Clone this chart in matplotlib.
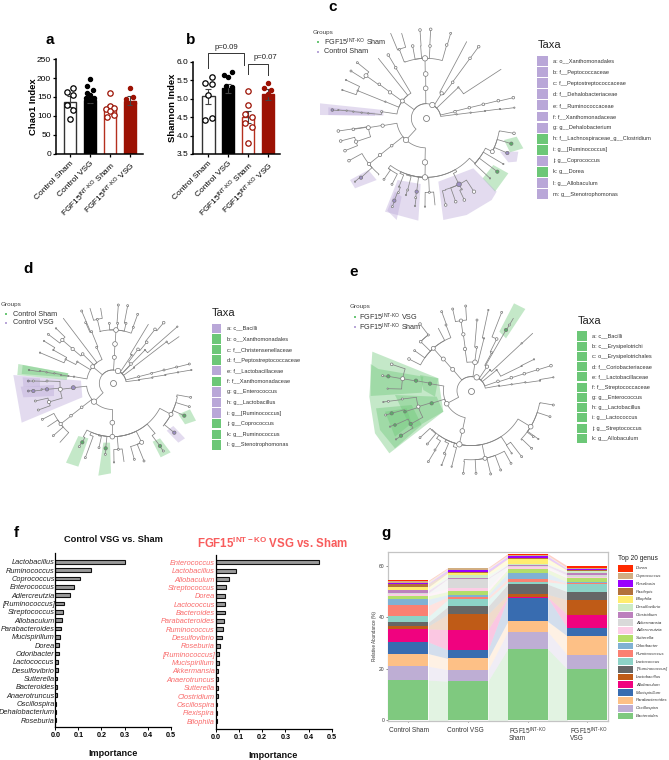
import numpy as np
import matplotlib
matplotlib.use('Agg')
import matplotlib.pyplot as plt
from matplotlib.patches import Polygon

plt.rcParams['font.family'] = ['Liberation Sans', 'DejaVu Sans']
plt.rcParams['mathtext.fontset'] = 'custom'
plt.rcParams['mathtext.rm'] = 'Liberation Sans'
plt.rcParams['mathtext.bf'] = 'Liberation Sans:bold'
plt.rcParams['mathtext.it'] = 'Liberation Sans:italic'
plt.rcParams['mathtext.default'] = 'regular'

W, H = 669, 760
KO = r'FGF15$^{\text{INT-KO}}$'

# a / b
groups = ['Control Sham', 'Control VSG', KO + ' Sham', KO + ' VSG']
chao_mean = [138, 143, 120, 140]
chao_err = [15, 8, 8, 12]
chao_pts = [[164, 173, 155, 130, 115, 91],
            [197, 179, 168, 161, 155, 148, 148, 143],
            [160, 127, 117, 120, 113, 102, 97],
            [175, 150, 145, 133, 111]]
chao_off = [[-.5, .5, .5, -.5, .5, 0],
            [0, -.5, .5, -.4, 0, -.6, .6, 0],
            [0, 0, -.6, .6, 0, .6, -.5],
            [0, .5, -.6, .6, 0]]
shan_mean = [5.07, 5.28, 4.5, 5.12]
shan_err = [0.2, 0.13, 0.17, 0.14]
shan_pts = [[5.58, 5.44, 5.4, 5.1, 4.48, 4.42],
            [5.73, 5.64, 5.6, 5.35, 5.33, 4.77],
            [5.2, 4.84, 4.59, 4.5, 4.33, 4.24, 3.81],
            [5.42, 5.28, 5.24, 5.12, 4.57]]
shan_off = [[.5, -.5, .6, 0, .5, -.5],
            [.5, -.6, 0, -.4, .5, 0],
            [0, 0, -.5, .6, -.5, .6, 0],
            [0, -.6, .5, 0, 0]]

# f
ctrl_genus = ['Lactobacillus', 'Ruminococcus', 'Coprococcus', 'Enterococcus', 'Adlercreutzia',
              '[Ruminococcus]', 'Streptococcus', 'Allobaculum', 'Parabacteroides', 'Mucispirillum',
              'Dorea', 'Odoribacter', 'Lactococcus', 'Desulfovibrio', 'Sutterella', 'Bacteroides',
              'Anaerotruncus', 'Oscillospira', 'Dehalobacterium', 'Roseburia']
ctrl_imp = [.30, .153, .108, .08, .063, .037, .035, .031, .023, .021,
            .018, .014, .013, .012, .009, .008, .006, .005, .004, .003]
ko_genus = ['Enterococcus', 'Lactobacillus', 'Allobaculum', 'Streptococcus', 'Dorea', 'Lactococcus',
            'Bacteroides', 'Parabacteroides', 'Ruminococcus', 'Desulfovibrio', 'Roseburia',
            '[Ruminococcus]', 'Mucispirillum', 'Akkermansia', 'Anaerotruncus', 'Sutterella',
            'Clostridium', 'Oscillospira', 'Flexispira', 'Bilophila']
ko_imp = [.447, .087, .058, .043, .04, .04, .038, .036, .03, .025,
          .017, .016, .013, .011, .010, .009, .008, .007, .006, .005]

# g, cumulative tops, bottom genus first
genus = ['Bacteroides', 'Oscillospira', 'Parabacteroides', 'Mucispirillum', 'Allobaculum',
         'Lactobacillus', '[Ruminococcus]', 'Lactococcus', 'Ruminococcus', 'Odoribacter',
         'Sutterella', 'Adlercreutzia', 'Akkermansia', 'Clostridium', 'Desulfovibrio',
         'Bilophila', 'Paxilepis', 'Roseburia', 'Coprococcus', 'Dorea']
genus_col = ['#7fc97f', '#beaed4', '#fdc086', '#386cb0', '#f0027f', '#bf5b17', '#666666', '#8dd3c7',
             '#fb8072', '#80b1d3', '#b3de69', '#fccde5', '#d9d9d9', '#bc80bd', '#ccebc5', '#ffed6f',
             '#b3713a', '#9900ff', '#d2ae82', '#ff2a00']
tops_ctrl_sham = [15.6, 21, 25.9, 30.4, 35.5, 36.6, 38, 40.3, 44.6, 47, 48.3, 49.2, 49.4, 50.4, 50.7,
                  51.7, 53, 53.2, 53.9, 54.3]
tops_ctrl_vsg = [15.2, 19.6, 24, 27.3, 35.2, 41.2, 44.2, 46.9, 47.9, 48.8, 50, 51.3, 55, 55.3, 56.5,
                 57.2, 57.6, 58.4, 59, 59.3]
tops_ko_sham = [27.7, 34.4, 38.4, 47.6, 47.9, 48.9, 52.8, 53.7, 54.9, 57.1, 58.6, 59.4, 59.8, 60.4,
                60.8, 62.7, 62.9, 63.7, 64.1, 64.7]
tops_ko_vsg = [19.8, 25.3, 32.7, 35.8, 41, 46.7, 49.9, 52.9, 53.2, 53.6, 55.2, 55.5, 56.3, 57.3, 57.9,
               58.1, 58.4, 58.7, 59.1, 59.9]
g_labels = ['Control Sham', 'Control VSG', KO, KO]
g_labels2 = ['', '', 'Sham', 'VSG']

# cladograms: (depth, x, y, node size, 0 plain / 1 purple / 2 green), parent = last row one depth up
c_center = (378, 355)
c_nodes = [
    (0, 378, 311, 0, 0),
    (1, 397, 315, 8, 0),
    (2, 425, 280, 5, 0), (3, 458, 247, 4, 0), (4, 510, 175, 4, 0), (5, 536, 140, 4, 0),
    (3, 500, 125, 0, 0),
    (2, 475, 262, 2, 0), (3, 603, 208, 0, 0),
    (2, 465, 335, 4, 0), (3, 508, 323, 4, 0), (4, 550, 313, 4, 0), (5, 595, 302, 4, 0), (6, 640, 293, 4, 0),
    (2, 470, 343, 2, 0), (3, 512, 338, 2, 0), (4, 555, 333, 2, 0), (5, 600, 327, 2, 0), (6, 643, 323, 2, 0),
    (1, 377, 265, 7, 0), (2, 377, 222, 7, 0), (3, 375, 175, 8, 0),
    (4, 315, 185, 0, 0), (5, 298, 148, 3, 0), (6, 272, 100, 0, 0), (6, 305, 100, 0, 0),
    (4, 338, 138, 4, 0), (4, 362, 138, 0, 0), (5, 360, 90, 4, 0), (4, 390, 138, 4, 0), (5, 392, 88, 4, 0),
    (4, 440, 135, 4, 0), (5, 452, 100, 3, 0),
    (1, 307, 303, 6, 0),
    (2, 270, 277, 5, 0), (3, 238, 253, 4, 0), (4, 198, 227, 6, 0), (5, 172, 188, 3, 0), (5, 153, 213, 3, 0),
    (2, 287, 203, 4, 0), (3, 265, 165, 4, 0), (2, 235, 175, 0, 0),
    (2, 256, 305, 2, 0), (3, 173, 272, 2, 0), (4, 138, 240, 2, 0), (4, 127, 270, 2, 0),
    (2, 245, 335, 3, 0), (3, 205, 340, 2, 0), (4, 185, 338, 2, 0), (5, 160, 335, 2, 0), (6, 140, 332, 2, 0),
    (7, 115, 330, 2, 0), (8, 97, 330, 4, 1),
    (1, 318, 420, 8, 0),
    (2, 248, 377, 5, 0), (3, 205, 383, 6, 0), (4, 160, 388, 4, 0), (4, 115, 393, 4, 0),
    (4, 168, 425, 5, 0), (5, 122, 423, 4, 0), (5, 135, 452, 4, 0),
    (2, 275, 437, 4, 0), (3, 240, 465, 5, 0), (4, 207, 492, 5, 0), (5, 147, 482, 4, 0),
    (5, 183, 533, 5, 1), (6, 165, 545, 2, 0), (5, 235, 525, 0, 0),
    (2, 375, 487, 8, 0), (3, 375, 532, 8, 0),
    (4, 265, 505, 0, 0), (5, 252, 538, 3, 0), (5, 276, 553, 3, 0),
    (4, 300, 520, 0, 0), (5, 297, 560, 2, 0), (6, 295, 578, 3, 0), (7, 283, 602, 5, 1), (8, 277, 620, 3, 0),
    (4, 320, 525, 0, 0), (5, 323, 570, 3, 0), (6, 318, 585, 2, 0),
    (4, 347, 530, 0, 0), (5, 350, 575, 5, 1), (6, 347, 593, 3, 0), (7, 345, 618, 2, 0),
    (4, 388, 577, 3, 0), (5, 375, 620, 2, 0), (5, 405, 615, 0, 0),
    (4, 470, 515, 0, 0), (5, 477, 553, 7, 1), (6, 437, 570, 0, 0), (7, 437, 615, 4, 0),
    (6, 467, 605, 4, 0), (6, 485, 568, 2, 0), (7, 493, 600, 4, 0), (6, 522, 575, 5, 0),
    (4, 525, 490, 0, 0), (5, 592, 515, 5, 2), (5, 570, 535, 2, 0), (5, 610, 492, 2, 0),
    (5, 577, 455, 6, 0), (6, 598, 395, 0, 0), (7, 642, 400, 4, 0),
    (6, 634, 431, 5, 2), (6, 622, 459, 5, 1),
]
c_shades = [
    (1, [(60, 310), (250, 330), (250, 347), (60, 345)]),
    (1, [(85, 322), (225, 338), (225, 347), (85, 345)]),
    (1, [(150, 540), (205, 510), (230, 540), (165, 565)]),
    (2, [(612, 420), (650, 410), (670, 445), (630, 457)]),
    (1, [(600, 455), (655, 455), (650, 485), (625, 487)]),
    (2, [(548, 535), (580, 495), (625, 520), (585, 575)]),
    (1, [(415, 545), (520, 505), (590, 575), (575, 600), (500, 645), (430, 660)]),
    (1, [(293, 540), (362, 552), (355, 662), (255, 635)]),
    (1, [(262, 632), (285, 575), (305, 590), (290, 660)]),
]

d_center = (338, 280)
d_nodes = [
    (0, 340, 240, 0, 0),
    (1, 354, 243, 8, 0),
    (2, 393, 222, 4, 0), (3, 414, 178, 4, 0), (4, 440, 157, 4, 0), (5, 465, 118, 4, 0), (6, 491, 98, 4, 0),
    (2, 395, 195, 2, 0), (3, 445, 103, 0, 0),
    (2, 435, 180, 2, 0), (3, 532, 110, 2, 0),
    (2, 402, 233, 2, 0), (3, 500, 155, 2, 0), (4, 537, 140, 0, 0),
    (2, 416, 260, 3, 0), (3, 455, 250, 3, 0), (4, 492, 240, 3, 0), (5, 530, 231, 3, 0), (6, 568, 222, 3, 0),
    (2, 417, 270, 2, 0), (3, 457, 263, 2, 0), (4, 496, 255, 2, 0), (5, 534, 247, 2, 0), (6, 574, 240, 2, 0),
    (1, 343, 202, 6, 0), (2, 345, 162, 7, 0), (3, 348, 120, 7, 0),
    (4, 300, 125, 0, 0), (5, 292, 88, 3, 0), (6, 270, 55, 0, 0), (6, 302, 55, 0, 0),
    (4, 328, 100, 3, 0), (4, 353, 100, 3, 0), (5, 355, 45, 3, 0), (4, 378, 100, 3, 0), (5, 383, 47, 3, 0),
    (4, 400, 112, 3, 0), (5, 413, 73, 3, 0),
    (1, 278, 230, 6, 0),
    (2, 248, 192, 4, 0), (3, 218, 177, 5, 0), (4, 187, 150, 5, 0), (5, 145, 133, 3, 0), (5, 168, 115, 2, 0),
    (2, 290, 172, 3, 0), (3, 275, 125, 3, 0), (4, 245, 63, 3, 0), (4, 257, 98, 3, 0),
    (2, 190, 85, 0, 0),
    (2, 232, 215, 2, 0), (3, 197, 208, 2, 0), (4, 160, 180, 2, 0), (5, 132, 153, 2, 0), (4, 120, 188, 2, 0),
    (2, 222, 260, 2, 0), (3, 205, 258, 2, 0), (4, 183, 255, 2, 0), (5, 163, 250, 2, 0), (6, 140, 247, 2, 0),
    (7, 120, 243, 2, 0), (8, 87, 240, 2, 2),
    (1, 282, 335, 8, 0),
    (2, 220, 293, 6, 1), (3, 181, 298, 6, 0),
    (4, 141, 273, 3, 0), (5, 100, 273, 3, 0), (6, 85, 273, 3, 1),
    (4, 141, 298, 5, 1), (5, 125, 298, 2, 0), (6, 100, 303, 5, 1), (7, 85, 303, 3, 1),
    (4, 147, 336, 5, 0), (5, 106, 333, 3, 0), (5, 115, 360, 3, 0),
    (2, 245, 352, 4, 0), (3, 213, 377, 4, 0), (4, 182, 402, 5, 0), (5, 127, 388, 3, 0),
    (5, 160, 437, 3, 0), (5, 180, 457, 0, 0), (5, 143, 410, 0, 0),
    (2, 337, 398, 7, 0), (3, 337, 440, 7, 0),
    (4, 250, 440, 0, 0), (5, 247, 457, 5, 2), (6, 238, 470, 3, 0),
    (4, 270, 435, 0, 0), (5, 256, 503, 3, 0), (4, 295, 437, 0, 0), (5, 297, 473, 3, 0),
    (4, 320, 440, 0, 0), (5, 317, 475, 5, 2), (6, 316, 493, 3, 0),
    (4, 355, 478, 3, 0), (5, 342, 517, 2, 0), (5, 372, 515, 0, 0),
    (4, 425, 457, 6, 0), (5, 392, 470, 0, 0), (6, 403, 508, 3, 0), (5, 432, 513, 3, 0),
    (4, 465, 430, 0, 0), (5, 480, 468, 5, 2), (6, 490, 483, 3, 0),
    (4, 513, 373, 6, 0), (5, 530, 320, 0, 0), (6, 572, 322, 3, 0), (5, 568, 350, 3, 0), (5, 553, 377, 5, 2),
    (5, 523, 428, 5, 1), (5, 490, 408, 0, 0),
]
d_shades = [
    (1, [(40, 255), (243, 272), (247, 322), (65, 398)]),
    (1, [(68, 262), (120, 265), (120, 290), (70, 290)]),
    (1, [(62, 290), (162, 285), (162, 318), (70, 322)]),
    (2, [(55, 222), (205, 250), (200, 270), (52, 255)]),
    (2, [(68, 225), (205, 250), (200, 262), (65, 252)]),
    (2, [(535, 373), (570, 358), (588, 392), (555, 403)]),
    (1, [(500, 422), (520, 408), (555, 445), (535, 458)]),
    (2, [(458, 455), (480, 445), (512, 487), (482, 502)]),
    (2, [(235, 438), (265, 445), (235, 530), (198, 518)]),
    (2, [(310, 458), (330, 458), (333, 550), (295, 557)]),
]

e_center = (393, 302)
e_nodes = [
    (0, 395, 260, 0, 0),
    (1, 410, 262, 8, 0),
    (2, 441, 230, 5, 0), (3, 455, 188, 3, 0), (4, 470, 147, 4, 0), (5, 485, 67, 3, 0),
    (3, 498, 120, 5, 2), (4, 508, 105, 3, 0), (5, 520, 85, 0, 0),
    (2, 450, 240, 2, 0), (3, 545, 160, 2, 0), (4, 578, 130, 0, 0),
    (2, 474, 274, 4, 0), (3, 514, 263, 4, 0), (4, 553, 251, 4, 0), (5, 593, 239, 4, 0), (6, 633, 227, 4, 0),
    (2, 477, 287, 2, 0), (3, 515, 283, 2, 0), (4, 556, 277, 2, 0), (5, 600, 272, 2, 0), (6, 640, 262, 2, 0),
    (2, 470, 240, 2, 0), (3, 545, 228, 2, 0), (4, 582, 208, 2, 0),
    (1, 405, 217, 7, 0),
    (2, 375, 177, 5, 0), (3, 370, 133, 5, 0), (4, 363, 92, 5, 0), (5, 338, 57, 3, 0), (5, 377, 48, 3, 0),
    (2, 410, 172, 3, 0), (3, 411, 90, 3, 0),
    (2, 432, 145, 2, 0), (3, 445, 60, 2, 0),
    (1, 338, 238, 6, 0), (2, 310, 207, 6, 0), (3, 280, 175, 6, 0),
    (4, 242, 155, 4, 0), (5, 240, 102, 4, 0), (5, 265, 135, 3, 0),
    (4, 224, 182, 3, 0), (4, 207, 207, 4, 0),
    (4, 318, 105, 3, 0), (5, 305, 65, 3, 0), (4, 295, 115, 0, 0),
    (1, 320, 341, 7, 0),
    (2, 270, 281, 5, 2), (3, 228, 272, 5, 2), (4, 188, 266, 6, 0),
    (5, 155, 223, 4, 0), (5, 145, 259, 5, 2), (6, 128, 257, 3, 0), (5, 143, 296, 2, 0),
    (2, 275, 340, 5, 2), (3, 235, 350, 5, 0),
    (4, 187, 327, 3, 0), (5, 145, 334, 3, 0), (6, 130, 336, 2, 0),
    (4, 195, 365, 4, 2), (5, 155, 370, 5, 2), (6, 137, 375, 3, 0),
    (4, 212, 402, 5, 2), (5, 165, 405, 4, 2), (6, 150, 410, 2, 0),
    (5, 183, 437, 5, 2), (6, 168, 448, 2, 0),
    (2, 367, 423, 7, 0), (3, 358, 463, 8, 0),
    (4, 275, 420, 0, 0), (5, 240, 443, 3, 0), (5, 262, 462, 3, 0),
    (4, 290, 445, 0, 0), (5, 285, 480, 3, 0), (6, 265, 515, 3, 0),
    (4, 315, 455, 0, 0), (5, 313, 490, 3, 0), (6, 305, 525, 2, 0),
    (4, 340, 470, 0, 0), (5, 335, 530, 2, 0),
    (4, 435, 505, 6, 0), (5, 372, 515, 0, 0), (6, 370, 550, 3, 0), (5, 408, 550, 3, 0),
    (5, 452, 552, 3, 0), (5, 482, 540, 3, 0), (5, 513, 520, 3, 0),
    (4, 500, 465, 0, 0), (5, 545, 500, 3, 0), (5, 515, 490, 2, 0),
    (4, 572, 410, 7, 0), (5, 600, 340, 0, 0), (6, 640, 345, 3, 0), (5, 630, 380, 3, 0),
    (5, 580, 440, 3, 0), (5, 595, 447, 2, 0), (5, 545, 450, 0, 0), (6, 575, 475, 3, 0),
]
e_shades = [
    (2, [(97, 185), (295, 265), (310, 365), (148, 490), (105, 430), (88, 320)]),
    (2, [(115, 237), (250, 260), (245, 308), (92, 318), (92, 222)]),
    (2, [(240, 255), (295, 265), (285, 320), (250, 300)]),
    (2, [(165, 315), (290, 320), (310, 365), (215, 420)]),
    (2, [(108, 355), (215, 345), (245, 405), (165, 475), (120, 420)]),
    (2, [(135, 365), (200, 355), (215, 400), (165, 440)]),
    (2, [(478, 125), (522, 40), (556, 57), (498, 145)]),
]

c_taxa = ['a: o__Xanthomonadales', 'b: f__Peptococcaceae', 'c: f__Peptostreptococcaceae',
          'd: f__Dehalobacteriaceae', 'e: f__Ruminococcaceae', 'f: f__Xanthomonadaceae',
          'g: g__Dehalobacterium', 'h: f__Lachnospiraceae_g__Clostridium', 'i: g__[Ruminococcus]',
          'j: g__Coprococcus', 'k: g__Dorea', 'l: g__Allobaculum', 'm: g__Stenotrophomonas']
c_taxa_kind = [1, 1, 1, 1, 1, 1, 1, 2, 2, 1, 2, 1, 1]
d_taxa = ['a: c__Bacilli', 'b: o__Xanthomonadales', 'c: f__Christensenellaceae',
          'd: f__Peptostreptococcaceae', 'e: f__Lactobacillaceae', 'f: f__Xanthomonadaceae',
          'g: g__Enterococcus', 'h: g__Lactobacillus', 'i: g__[Ruminococcus]', 'j: g__Coprococcus',
          'k: g__Ruminococcus', 'l: g__Stenotrophomonas']
d_taxa_kind = [1, 2, 2, 2, 1, 2, 1, 1, 1, 2, 2, 2]
e_taxa = ['a: c__Bacilli', 'b: c__Erysipelotrichi', 'c: o__Erysipelotrichales', 'd: f__Coriobacteriaceae',
          'e: f__Lactobacillaceae', 'f: f__Streptococcaceae', 'g: g__Enterococcus', 'h: g__Lactobacillus',
          'i: g__Lactococcus', 'j: g__Streptococcus', 'k: g__Allobaculum']
e_taxa_kind = [2] * 11

PURPLE = '#b9a7d8'
GREEN = '#6cc777'
INK = '#222222'
RED = '#9c1204'


def px_axes(x0, y0, x1, y1):
    return fig.add_axes([x0 / W, 1 - y1 / H, (x1 - x0) / W, (y1 - y0) / H])


def bar_panel(ax, means, errs, pts, offs, ylim, ticks, ylabel, ticklabs):
    edge = ['#333333', 'black', '#b5301f', RED]
    face = ['white', 'black', 'white', RED]
    pt_edge = ['black', 'black', RED, RED]
    pt_face = ['white', 'black', 'white', RED]
    for i in range(4):
        ax.bar(i, means[i], 0.62, color=face[i], edgecolor=edge[i], linewidth=1.0, zorder=2)
        ax.errorbar(i, means[i], yerr=errs[i], color='#444444', capsize=2.2, lw=0.8, capthick=0.8, zorder=3)
        x = [i + o * 0.33 for o in offs[i]]
        filled = pt_face[i] != 'white'
        ax.scatter(x, pts[i], s=9 if filled else 15, facecolor=pt_face[i], edgecolor=pt_edge[i],
                   linewidth=0.9, zorder=4)
    ax.set_ylim(*ylim)
    ax.set_yticks(ticks)
    ax.set_xticks(range(4))
    ax.set_xticklabels(ticklabs, rotation=45, ha='right', rotation_mode='anchor', fontsize=6)
    ax.tick_params(axis='y', labelsize=6, length=2.5, width=0.9, pad=1)
    ax.tick_params(axis='x', length=2.5, width=0.9, pad=2)
    ax.set_ylabel(ylabel, fontsize=6.8, fontweight='bold', labelpad=-0.5)
    for s in ['top', 'right']:
        ax.spines[s].set_visible(False)
    for s in ['left', 'bottom']:
        ax.spines[s].set_linewidth(1.1)


def imp_panel(ax, names, vals, ylim, col):
    ax.barh(range(len(vals)), vals, 0.45, color='#9a9a9a', edgecolor='#111111', linewidth=0.8)
    ax.set_ylim(*ylim)
    ax.set_xlim(0, 0.5)
    ax.set_yticks(range(len(vals)))
    ax.set_yticklabels(names, fontsize=5.3, style='italic', color=col)
    ax.tick_params(axis='y', length=0, pad=0.5)
    ax.set_xticks([0, .1, .2, .3, .4, .5])
    ax.set_xticklabels(['0.0', '0.1', '0.2', '0.3', '0.4', '0.5'], fontsize=5.2, fontweight='bold')
    ax.tick_params(axis='x', length=2, width=0.7, pad=1.5)
    for s in ['top', 'right']:
        ax.spines[s].set_visible(False)
    ax.spines['left'].set_linewidth(0.9)
    ax.spines['bottom'].set_linewidth(0.9)
    ax.patch.set_alpha(0)


def draw_tree(ax, center, nodes, shades):
    cx, cy = center
    kind_col = {1: PURPLE, 2: GREEN}
    for kind, poly in shades:
        ax.add_patch(Polygon(poly, closed=True, facecolor=kind_col[kind], alpha=0.4, edgecolor='none', zorder=1))
    last = {}
    xs, ys, ss, fcs = [], [], [], []
    for depth, x, y, size, kind in nodes:
        last[depth] = (x, y)
        if depth > 0:
            px, py = last[depth - 1]
            pr = np.hypot(px - cx, py - cy)
            pa = np.arctan2(py - cy, px - cx)
            a = np.arctan2(y - cy, x - cx)
            da = (a - pa + np.pi) % (2 * np.pi) - np.pi
            th = np.linspace(pa, pa + da, 24)
            lx = list(cx + pr * np.cos(th)) + [x]
            ly = list(cy + pr * np.sin(th)) + [y]
            ax.plot(lx, ly, color='#858585', lw=0.55, zorder=2, solid_capstyle='round')
        if size > 0:
            xs.append(x)
            ys.append(y)
            # node size is a radius in the 3x tree units
            ss.append((2 * size * 0.24) ** 2)
            fcs.append({0: 'white', 1: '#9d8fc4', 2: '#5aaf68'}[kind])
    ax.scatter(xs, ys, s=ss, facecolor=fcs, edgecolor='#777777', linewidth=0.5, zorder=3)
    ax.scatter([cx], [cy], s=(2 * 9 * 0.24) ** 2, facecolor='white', edgecolor='#777777', linewidth=0.55, zorder=3)


def tree_axes(x0, y0, w, h):
    ax = px_axes(x0, y0, x0 + w, y0 + h)
    ax.set_xlim(0, w * 3)
    ax.set_ylim(h * 3, 0)
    ax.axis('off')
    return ax


fig = plt.figure(figsize=(W / 100, H / 100), dpi=100)

# a
ax = px_axes(56, 59.3, 143, 153.5)
ax.set_xlim(-0.7, 3.65)
bar_panel(ax, chao_mean, chao_err, chao_pts, chao_off, (0, 250), [0, 50, 100, 150, 200, 250], 'Chao1 Index', groups)

# b
ax = px_axes(193.3, 62, 280, 154)
ax.set_xlim(-0.76, 3.6)
bar_panel(ax, shan_mean, shan_err, shan_pts, shan_off, (3.5, 6.0), [3.5, 4.0, 4.5, 5.0, 5.5, 6.0], 'Shannon Index', groups)
ax.set_yticklabels(['3.5', '4.0', '4.5', '5.0', '5.5', '6.0'])
ax.plot([0, 0, 1.8, 1.8], [5.83, 6.25, 6.25, 5.92], color='#333333', lw=0.7, clip_on=False)
ax.text(0.9, 6.4, 'p=0.09', fontsize=5.6, ha='center', va='center', color=INK)
ax.plot([1.97, 1.97, 2.98, 2.98], [5.67, 5.95, 5.95, 5.65], color='#333333', lw=0.7, clip_on=False)
ax.text(2.88, 6.11, 'p=0.07', fontsize=5.6, ha='center', va='center', color=INK)

# c d e
draw_tree(tree_axes(300, 0, 369, 225), c_center, c_nodes, c_shades)
draw_tree(tree_axes(0, 290, 300, 190), d_center, d_nodes, d_shades)
draw_tree(tree_axes(340, 290, 329, 190), e_center, e_nodes, e_shades)

# f
ax = px_axes(55.3, 553, 170.7, 727)
imp_panel(ax, ctrl_genus, ctrl_imp, (19.8, -1.04), '#222222')
ax = px_axes(215.7, 555, 331.7, 728.7)
imp_panel(ax, ko_genus, ko_imp, (19.9, -0.87), '#f96a6a')

# g
ax = px_axes(388.3, 552.3, 607.7, 720.6)
ax.set_xlim(0, 219.4)
ax.set_ylim(-0.1, 65.2)
tops = [tops_ctrl_sham, tops_ctrl_vsg, tops_ko_sham, tops_ko_vsg]
bar_w = 40
bar_step = 59.7
for j, t in enumerate(tops):
    bottoms = [0] + t[:-1]
    left = j * bar_step
    ax.bar(left + bar_w / 2, np.array(t) - np.array(bottoms), bar_w, bottom=bottoms, color=genus_col, linewidth=0, zorder=3)
    if j < 3:
        nxt = tops[j + 1]
        nbot = [0] + nxt[:-1]
        for k in range(len(genus)):
            ax.fill_between([left + bar_w, left + bar_step], [bottoms[k], nbot[k]], [t[k], nxt[k]],
                            color=genus_col[k], alpha=0.22, linewidth=0, zorder=2)
ax.set_yticks([0, 20, 40, 60])
ax.tick_params(axis='y', labelsize=3.6, length=1.5, width=0.4, pad=1, colors='#333333')
ax.set_xticks([j * bar_step + bar_w / 2 for j in range(4)])
ax.set_xticklabels([])
ax.tick_params(axis='x', length=1, width=0.4)
ax.set_ylabel('Relative Abundance (%)', fontsize=3.3, labelpad=1.5, color='#333333')
for s in ax.spines.values():
    s.set_color('#c4c4c4')
    s.set_linewidth(0.9)

# everything positioned on the page itself
page = fig.add_axes([0, 0, 1, 1])
page.set_xlim(0, W)
page.set_ylim(H, 0)
page.axis('off')

letters = ['a', 'b', 'c', 'd', 'e', 'f', 'g']
letter_x = [45, 186, 328, 23, 349, 14, 381.5]
letter_y = [44, 44, 11, 272.7, 276.3, 537.3, 537.3]
for s, x, y in zip(letters, letter_x, letter_y):
    page.text(x, y, s, fontsize=11, fontweight='bold', ha='left', va='baseline', color='black')

page.text(113, 540, 'Control VSG vs. Sham', fontsize=6.7, fontweight='bold', ha='center', va='center', color='#111111')
page.text(273, 543, r'FGF15$^{\mathbf{INT-KO}}$ VSG vs. Sham', fontsize=8.3, fontweight='bold',
          ha='center', va='center', color='#f85c5c')
page.text(113, 753, 'Importance', fontsize=6.6, fontweight='bold', ha='center', va='center', color='#111111')
page.text(273.5, 755, 'Importance', fontsize=6.6, fontweight='bold', ha='center', va='center', color='#111111')

g_lab_x = [389, 447, 508.7, 570]
for s, s2, x in zip(g_labels, g_labels2, g_lab_x):
    page.text(x, 731, s, fontsize=4.7, ha='left', va='center', color='#333333')
    if s2:
        page.text(x, 739, s2, fontsize=4.7, ha='left', va='center', color='#333333')

page.text(618.3, 558, 'Top 20 genus', fontsize=4.8, ha='left', va='center', color='#222222')
for k, name in enumerate(genus[::-1]):
    y = 568.3 + k * 7.77
    page.fill_between([618.3, 633.3], y - 3.4, y + 3.4, color=genus_col[::-1][k], linewidth=0)
    page.text(636, y, name, fontsize=3.2, style='italic', ha='left', va='center', color='#333333')

# cladogram legends
legend_x = [312.7, 1, 349.3]
legend_y = [32.7, 304.3, 306.7]
dot_x = [318.3, 6.3, 355]
dot_y = [[42.3, 51.7], [314, 322.7], [317, 327.3]]
label_x = [324.3, 12.7, 359.3]
group_names = [[KO + ' Sham', 'Control Sham'], ['Control Sham', 'Control VSG'], [KO + ' VSG', KO + ' Sham']]
for i in range(3):
    page.text(legend_x[i], legend_y[i], 'Groups', fontsize=4.6, color='#444444', ha='left', va='center')
    for j in range(2):
        page.scatter([dot_x[i]], [dot_y[i][j]], s=2.5, marker='s', color=[GREEN, PURPLE][j], linewidth=0)
        page.text(label_x[i], dot_y[i][j], group_names[i][j], fontsize=5.2, color='#333333', ha='left', va='center')

taxa_lists = [c_taxa, d_taxa, e_taxa]
taxa_kinds = [c_taxa_kind, d_taxa_kind, e_taxa_kind]
taxa_x = [537.3, 211.7, 577.3]
taxa_title_y = [45, 313, 321]
taxa_y0 = [61, 328.3, 336]
taxa_step = [11.1, 10.6, 10.23]
swatch_w = [10.4, 9.5, 9.5]
for i in range(3):
    page.text(taxa_x[i], taxa_title_y[i], 'Taxa', fontsize=8, color='#222222', ha='left', va='center')
    for k, (name, kind) in enumerate(zip(taxa_lists[i], taxa_kinds[i])):
        y = taxa_y0[i] + k * taxa_step[i]
        h = taxa_step[i] / 2 - 0.6
        page.fill_between([taxa_x[i], taxa_x[i] + swatch_w[i]], y - h, y + h,
                          color=PURPLE if kind == 1 else GREEN, linewidth=0)
        page.text(taxa_x[i] + swatch_w[i] + 5.5, y, name, fontsize=4.1, color='#333333', ha='left', va='center')

page.set_xlim(0, W)
page.set_ylim(H, 0)

fig.savefig('out.png', dpi=100)
